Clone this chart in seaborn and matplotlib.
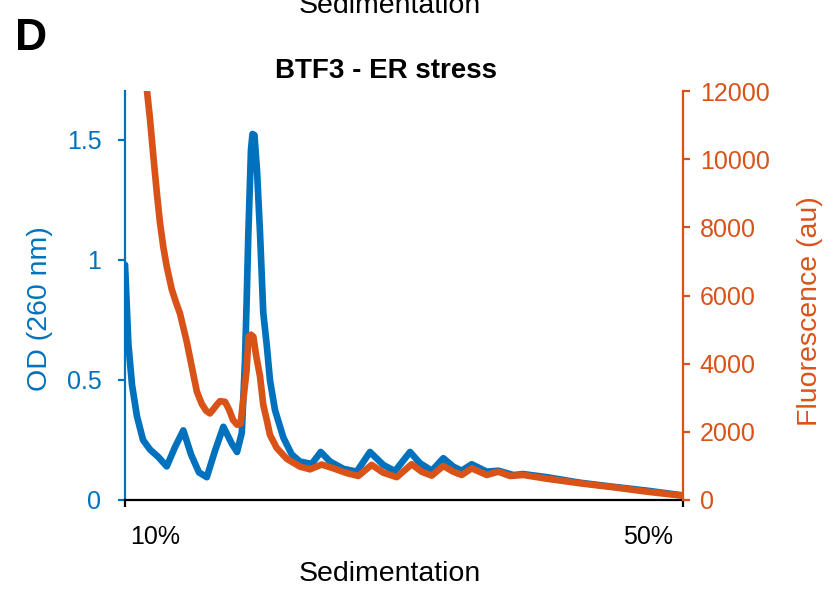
import matplotlib
matplotlib.use("Agg")
import matplotlib.pyplot as plt
import matplotlib.transforms as mtransforms
import pandas as pd
import seaborn as sns

# -------------------------------------------------------------------
# Data (x = sucrose gradient position, %)
# -------------------------------------------------------------------
od_pos = [10.00, 10.24, 10.50, 10.85, 11.29, 11.79, 12.37, 12.99, 13.58, 14.18,
          14.73, 15.30, 15.86, 16.45, 17.05, 17.65, 18.03, 18.37, 18.60, 18.72,
          18.84, 19.03, 19.14, 19.28, 19.46, 19.68, 19.91, 20.16, 20.39, 20.75,
          21.35, 21.95, 22.54, 23.38, 24.03, 24.70, 25.65, 26.61, 27.56, 28.52,
          29.35, 30.43, 31.15, 31.99, 32.82, 33.53, 34.14, 34.85, 35.93, 36.76,
          37.84, 38.55, 40.23, 42.62, 45.00, 47.40, 50.00]
od_val = [0.98, 0.65, 0.48, 0.35, 0.25, 0.21, 0.18, 0.14, 0.22, 0.29,
          0.19, 0.115, 0.095, 0.205, 0.305, 0.235, 0.20, 0.28, 0.58, 0.83,
          1.11, 1.46, 1.525, 1.52, 1.375, 1.11, 0.78, 0.645, 0.50, 0.375,
          0.26, 0.19, 0.16, 0.15, 0.20, 0.16, 0.13, 0.118, 0.20, 0.146,
          0.12, 0.20, 0.153, 0.122, 0.174, 0.139, 0.122, 0.149, 0.118, 0.122,
          0.104, 0.108, 0.095, 0.072, 0.055, 0.039, 0.019]

fl_pos = [11.29, 11.56, 11.79, 12.03, 12.29, 12.51, 12.75, 12.99, 13.35, 13.66,
          13.94, 14.42, 14.90, 15.15, 15.50, 15.81, 16.09, 16.31, 16.57, 16.81,
          17.17, 17.46, 17.74, 18.03, 18.28, 18.48, 18.72, 18.85, 19.03, 19.20,
          19.39, 19.68, 19.91, 20.16, 20.39, 20.87, 21.59, 22.54, 23.26, 24.10,
          24.93, 25.89, 26.72, 27.68, 28.52, 29.48, 30.55, 31.27, 31.99, 32.82,
          33.53, 34.14, 34.85, 35.93, 36.76, 37.60, 38.55, 40.23, 42.62, 45.00,
          47.40, 50.00]
fl_val = [13530, 12060, 11180, 10090, 8970, 8120, 7410, 6850, 6180, 5790,
          5470, 4650, 3680, 3180, 2820, 2620, 2540, 2650, 2790, 2900,
          2880, 2650, 2350, 2210, 2240, 2940, 3820, 4790, 4850, 4790,
          4260, 3620, 2790, 2350, 1910, 1530, 1210, 980, 900, 1040,
          930, 790, 705, 1030, 800, 670, 1050, 830, 715, 1000,
          830, 735, 930, 735, 830, 705, 735, 625, 490, 375,
          245, 125]

x_ticks = [10, 50]
x_ticklabels = ["10%", "50%"]
od_ticks = [0, 0.5, 1, 1.5]
od_ticklabels = ["0", "0.5", "1", "1.5"]
fl_ticks = [0, 2000, 4000, 6000, 8000, 10000, 12000]

BLUE = "#0072BD"
ORANGE = "#D95319"

od_df = pd.DataFrame({"pos": od_pos, "od": od_val})
fl_df = pd.DataFrame({"pos": fl_pos, "fl": fl_val})

sns.set_theme(style="white")
plt.rcParams["font.family"] = ["Liberation Sans", "DejaVu Sans"]
plt.rcParams["text.color"] = "black"
plt.rcParams["axes.labelcolor"] = "black"

fig = plt.figure(figsize=(8.33, 5.91), dpi=100)
ax = fig.add_axes([0.1501, 0.1540, 0.6698, 0.6920])
ax2 = ax.twinx()

sns.lineplot(data=od_df, x="pos", y="od", ax=ax, color=BLUE, linewidth=4.8,
             estimator=None, sort=False, solid_joinstyle="round")
sns.lineplot(data=fl_df, x="pos", y="fl", ax=ax2, color=ORANGE, linewidth=4.8,
             estimator=None, sort=False, solid_joinstyle="round")

ax.set_xlim(10, 50)
ax.set_ylim(0, 1.704)
ax2.set_ylim(0, 12000)

# spines
for a in (ax, ax2):
    a.spines["top"].set_visible(False)
    for s in a.spines.values():
        s.set_linewidth(1.6)
ax.spines["right"].set_visible(False)
ax2.spines["left"].set_visible(False)
ax.spines["left"].set_color(BLUE)
ax2.spines["right"].set_color(ORANGE)
ax.spines["bottom"].set_color("black")
ax2.spines["bottom"].set_visible(False)

# ticks
ax.set_xticks(x_ticks)
ax.set_xticklabels(x_ticklabels)
ax.set_yticks(od_ticks)
ax.set_yticklabels(od_ticklabels)
ax2.set_yticks(fl_ticks)
ax.tick_params(axis="x", direction="out", length=5, width=1.6, colors="black",
               labelsize=18, pad=13, bottom=True)
ax.tick_params(axis="y", direction="out", length=5, width=1.6, colors=BLUE,
               labelsize=18, pad=12, left=True)
ax2.tick_params(axis="y", direction="out", length=5, width=1.6, colors=ORANGE,
                labelsize=18, pad=7, right=True)

# tick labels sit inside the tick ends
xl = ax.get_xticklabels()
xl[0].set_horizontalalignment("left")
xl[0].set_transform(xl[0].get_transform() +
                    mtransforms.ScaledTranslation(0.05, 0, fig.dpi_scale_trans))
xl[1].set_horizontalalignment("right")
xl[1].set_transform(xl[1].get_transform() +
                    mtransforms.ScaledTranslation(-0.10, 0, fig.dpi_scale_trans))

# labels
ax.set_xlabel("Sedimentation", fontsize=20.5, color="black")
ax.xaxis.set_label_coords(0.475, -0.182)
ax.xaxis.label.set_va("center")
ax.set_ylabel("OD (260 nm)", fontsize=20.5, color=BLUE)
ax.yaxis.label.set_va("center")
ax.yaxis.set_label_coords(-0.152, 0.467)
ax2.set_ylabel("Fluorescence (au)", fontsize=20.5, color=ORANGE)
ax2.yaxis.label.set_va("center")
ax2.yaxis.set_label_coords(1.2276, 0.462)

fig.text(386 / 833, 1 - 78 / 591, "BTF3 - ER stress", fontsize=20,
         fontweight="bold", ha="center", va="baseline", color="black")
fig.text(15 / 833, 1 - 50 / 591, "D", fontsize=32, fontweight="bold",
         ha="left", va="baseline", color="black")
# x label of the panel above, cut by the figure edge as in the source figure
fig.text(390 / 833, 1 - 13 / 591, "Sedimentation", fontsize=20.5,
         ha="center", va="baseline", color="black")

fig.savefig("out.png", dpi=100)
